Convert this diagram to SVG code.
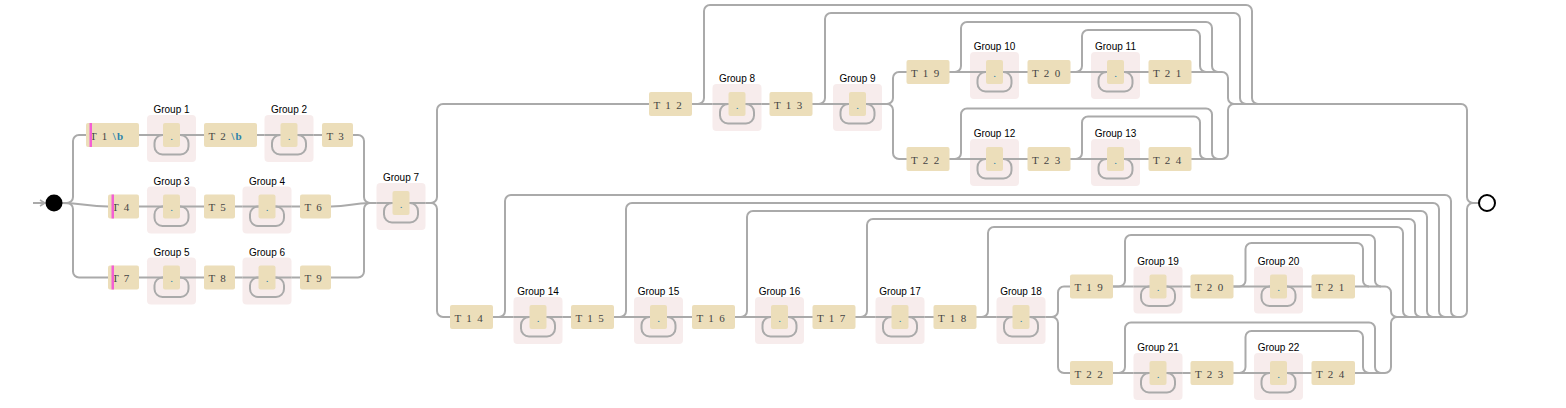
<svg xmlns="http://www.w3.org/2000/svg" width="1566" height="408" viewBox="0 0 1566 408">
<style>
.ln{fill:none;stroke:#aaa;stroke-width:2}
.lp{fill:none;stroke:#aaa;stroke-width:2}
.tb{fill:#ecdeba}
.gb{fill:#f7ecec}
.gl{font-family:"Liberation Sans",Arial,sans-serif;font-size:10px;fill:#000;text-anchor:middle}
.tt{font-family:"Liberation Serif","Times New Roman",serif;font-size:11px;letter-spacing:1.3px;fill:#444}
.bs{font-weight:bold;fill:#2b82aa}
.dt{font-family:"Liberation Serif","Times New Roman",serif;font-size:11px;fill:#2b82aa;text-anchor:middle}
.bar{fill:#f45fd4}
</style>
<defs>
<marker id="arr" markerWidth="8" markerHeight="8" refX="6" refY="4" orient="auto" markerUnits="userSpaceOnUse"><path d="M1,1 L6,4 L1,7" fill="none" stroke="#aaa" stroke-width="1.5"/></marker>
</defs>
<g id="connectors">
<path class="ln" d="M33 203 H45" marker-end="url(#arr)"/>
<path class="ln" d="M62 203 H67 A6 6 0 0 0 73 197 V141 A6 6 0 0 1 79 135 H358 A6 6 0 0 1 364 141 V197 A6 6 0 0 0 370 203"/>
<path class="ln" d="M62 203 C84 203 86 206.5 108 206.5 H331 C350 206.5 352 203 370 203"/>
<path class="ln" d="M62 203 H67 A6 6 0 0 1 73 209 V271.5 A6 6 0 0 0 79 277.5 H358 A6 6 0 0 0 364 271.5 V209 A6 6 0 0 1 370 203"/>
<path class="ln" d="M370 203 H431 A6 6 0 0 0 437 197 V110 A6 6 0 0 1 443 104 H887 A6 6 0 0 0 893 98 V78 A6 6 0 0 1 899 72 H1222 A6 6 0 0 1 1228 78 V98 A6 6 0 0 0 1234 104 H1461 A6 6 0 0 1 1467 110 V197 A6 6 0 0 0 1473 203 H1479"/>
<path class="ln" d="M887 104 A6 6 0 0 1 893 110 V153 A6 6 0 0 0 899 159 H1222 A6 6 0 0 0 1228 153 V110 A6 6 0 0 1 1234 104"/>
<path class="ln" d="M431 203 A6 6 0 0 1 437 209 V311 A6 6 0 0 0 443 317 H1052 A6 6 0 0 0 1058 311 V292.5 A6 6 0 0 1 1064 286.5 H1385 A6 6 0 0 1 1391 292.5 V311 A6 6 0 0 0 1397 317 H1461 A6 6 0 0 0 1467 311 V209 A6 6 0 0 1 1473 203"/>
<path class="ln" d="M1052 317 A6 6 0 0 1 1058 323 V367 A6 6 0 0 0 1064 373 H1385 A6 6 0 0 0 1391 367 V323 A6 6 0 0 1 1397 317"/>
<path class="ln" d="M692 104 H698 A6 6 0 0 0 704 98 V11 A6 6 0 0 1 710 5 H1246 A6 6 0 0 1 1252 11 V98 A6 6 0 0 0 1258 104"/>
<path class="ln" d="M812 104 H819 A6 6 0 0 0 825 98 V19 A6 6 0 0 1 831 13 H1234 A6 6 0 0 1 1240 19 V98 A6 6 0 0 0 1246 104"/>
<path class="ln" d="M949 72 H955 A6 6 0 0 0 961 66 V28 A6 6 0 0 1 967 22 H1206 A6 6 0 0 1 1212 28 V66 A6 6 0 0 0 1218 72"/>
<path class="ln" d="M1070 72 H1076 A6 6 0 0 0 1082 66 V36 A6 6 0 0 1 1088 30 H1194 A6 6 0 0 1 1200 36 V66 A6 6 0 0 0 1206 72"/>
<path class="ln" d="M949 159 H955 A6 6 0 0 0 961 153 V114.5 A6 6 0 0 1 967 108.5 H1206 A6 6 0 0 1 1212 114.5 V153 A6 6 0 0 0 1218 159"/>
<path class="ln" d="M1070 159 H1076 A6 6 0 0 0 1082 153 V122.5 A6 6 0 0 1 1088 116.5 H1194 A6 6 0 0 1 1200 122.5 V153 A6 6 0 0 0 1206 159"/>
<path class="ln" d="M493 317 H499 A6 6 0 0 0 505 311 V201 A6 6 0 0 1 511 195 H1445 A6 6 0 0 1 1451 201 V311 A6 6 0 0 0 1457 317"/>
<path class="ln" d="M614 317 H620 A6 6 0 0 0 626 311 V209 A6 6 0 0 1 632 203 H1433 A6 6 0 0 1 1439 209 V311 A6 6 0 0 0 1445 317"/>
<path class="ln" d="M735 317 H741 A6 6 0 0 0 747 311 V217 A6 6 0 0 1 753 211 H1421 A6 6 0 0 1 1427 217 V311 A6 6 0 0 0 1433 317"/>
<path class="ln" d="M855 317 H861 A6 6 0 0 0 867 311 V225 A6 6 0 0 1 873 219 H1409 A6 6 0 0 1 1415 225 V311 A6 6 0 0 0 1421 317"/>
<path class="ln" d="M976 317 H982 A6 6 0 0 0 988 311 V233 A6 6 0 0 1 994 227 H1397 A6 6 0 0 1 1403 233 V311 A6 6 0 0 0 1409 317"/>
<path class="ln" d="M1113 286.5 H1119 A6 6 0 0 0 1125 280.5 V241 A6 6 0 0 1 1131 235 H1369 A6 6 0 0 1 1375 241 V280.5 A6 6 0 0 0 1381 286.5"/>
<path class="ln" d="M1233 286.5 H1239.5 A6 6 0 0 0 1245.5 280.5 V249 A6 6 0 0 1 1251.5 243 H1357 A6 6 0 0 1 1363 249 V280.5 A6 6 0 0 0 1369 286.5"/>
<path class="ln" d="M1113 373 H1119 A6 6 0 0 0 1125 367 V328.5 A6 6 0 0 1 1131 322.5 H1369 A6 6 0 0 1 1375 328.5 V367 A6 6 0 0 0 1381 373"/>
<path class="ln" d="M1233 373 H1239.5 A6 6 0 0 0 1245.5 367 V337 A6 6 0 0 1 1251.5 331 H1357 A6 6 0 0 1 1363 337 V367 A6 6 0 0 0 1369 373"/>
</g>
<g id="start"><circle cx="54" cy="203" r="8.5" fill="#000"/></g>
<g id="end"><circle cx="1487" cy="203" r="8" fill="#fff" stroke="#000" stroke-width="2"/></g>

<g id="t1"><rect class="tb" x="86" y="123" width="53" height="24" rx="2"/><text class="tt" x="90" y="139.5">T 1 <tspan class="bs">\b</tspan></text><rect class="bar" x="89.5" y="123" width="2.5" height="24"/></g>
<g id="g1"><rect class="gb" x="147" y="115" width="49" height="47" rx="4"/><text class="gl" x="171.5" y="113">Group 1</text><path class="ln" d="M147 135 H196"/><rect class="lp" x="154.5" y="135" width="34" height="19.5" rx="8"/><rect class="tb" x="163" y="123" width="17" height="24" rx="2"/><text class="dt" x="171.5" y="139.5">.</text></g>
<g id="t2"><rect class="tb" x="204" y="123" width="53" height="24" rx="2"/><text class="tt" x="208.5" y="139.5">T 2 <tspan class="bs">\b</tspan></text></g>
<g id="g2"><rect class="gb" x="264.5" y="115" width="49" height="47" rx="4"/><text class="gl" x="289" y="113">Group 2</text><path class="ln" d="M264.5 135 H313.5"/><rect class="lp" x="272" y="135" width="34" height="19.5" rx="8"/><rect class="tb" x="280.5" y="123" width="17" height="24" rx="2"/><text class="dt" x="289" y="139.5">.</text></g>
<g id="t3"><rect class="tb" x="322" y="123" width="31" height="24" rx="2"/><text class="tt" x="326.5" y="139.5">T 3</text></g>

<g id="t4"><rect class="tb" x="108" y="194.5" width="31" height="24" rx="2"/><text class="tt" x="112" y="211">T 4</text><rect class="bar" x="111.5" y="194.5" width="2.5" height="24"/></g>
<g id="g3"><rect class="gb" x="147" y="186.5" width="49" height="47" rx="4"/><text class="gl" x="171.5" y="184.5">Group 3</text><path class="ln" d="M147 206.5 H196"/><rect class="lp" x="154.5" y="206.5" width="34" height="19.5" rx="8"/><rect class="tb" x="163" y="194.5" width="17" height="24" rx="2"/><text class="dt" x="171.5" y="211">.</text></g>
<g id="t5"><rect class="tb" x="204" y="194.5" width="31" height="24" rx="2"/><text class="tt" x="208.5" y="211">T 5</text></g>
<g id="g4"><rect class="gb" x="242.5" y="186.5" width="49" height="47" rx="4"/><text class="gl" x="267" y="184.5">Group 4</text><path class="ln" d="M242.5 206.5 H291.5"/><rect class="lp" x="250" y="206.5" width="34" height="19.5" rx="8"/><rect class="tb" x="258.5" y="194.5" width="17" height="24" rx="2"/><text class="dt" x="267" y="211">.</text></g>
<g id="t6"><rect class="tb" x="300" y="194.5" width="31" height="24" rx="2"/><text class="tt" x="304.5" y="211">T 6</text></g>

<g id="t7"><rect class="tb" x="108" y="265.5" width="31" height="24" rx="2"/><text class="tt" x="112" y="282">T 7</text><rect class="bar" x="111.5" y="265.5" width="2.5" height="24"/></g>
<g id="g5"><rect class="gb" x="147" y="257.5" width="49" height="47" rx="4"/><text class="gl" x="171.5" y="255.5">Group 5</text><path class="ln" d="M147 277.5 H196"/><rect class="lp" x="154.5" y="277.5" width="34" height="19.5" rx="8"/><rect class="tb" x="163" y="265.5" width="17" height="24" rx="2"/><text class="dt" x="171.5" y="282">.</text></g>
<g id="t8"><rect class="tb" x="204" y="265.5" width="31" height="24" rx="2"/><text class="tt" x="208.5" y="282">T 8</text></g>
<g id="g6"><rect class="gb" x="242.5" y="257.5" width="49" height="47" rx="4"/><text class="gl" x="267" y="255.5">Group 6</text><path class="ln" d="M242.5 277.5 H291.5"/><rect class="lp" x="250" y="277.5" width="34" height="19.5" rx="8"/><rect class="tb" x="258.5" y="265.5" width="17" height="24" rx="2"/><text class="dt" x="267" y="282">.</text></g>
<g id="t9"><rect class="tb" x="300" y="265.5" width="31" height="24" rx="2"/><text class="tt" x="304.5" y="282">T 9</text></g>

<g id="g7"><rect class="gb" x="376.5" y="183" width="49" height="47" rx="4"/><text class="gl" x="401" y="181">Group 7</text><path class="ln" d="M376.5 203 H425.5"/><rect class="lp" x="384" y="203" width="34" height="19.5" rx="8"/><rect class="tb" x="392.5" y="191" width="17" height="24" rx="2"/><text class="dt" x="401" y="207.5">.</text></g>

<g id="t12"><rect class="tb" x="649" y="92" width="43" height="24" rx="2"/><text class="tt" x="653.5" y="108.5">T 1 2</text></g>
<g id="g8"><rect class="gb" x="712.5" y="84" width="49" height="47" rx="4"/><text class="gl" x="737" y="82">Group 8</text><path class="ln" d="M712.5 104 H761.5"/><rect class="lp" x="720" y="104" width="34" height="19.5" rx="8"/><rect class="tb" x="728.5" y="92" width="17" height="24" rx="2"/><text class="dt" x="737" y="108.5">.</text></g>
<g id="t13"><rect class="tb" x="769.5" y="92" width="43" height="24" rx="2"/><text class="tt" x="774" y="108.5">T 1 3</text></g>
<g id="g9"><rect class="gb" x="833" y="84" width="49" height="47" rx="4"/><text class="gl" x="857.5" y="82">Group 9</text><path class="ln" d="M833 104 H882"/><rect class="lp" x="840.5" y="104" width="34" height="19.5" rx="8"/><rect class="tb" x="849" y="92" width="17" height="24" rx="2"/><text class="dt" x="857.5" y="108.5">.</text></g>

<g id="t19"><rect class="tb" x="906.5" y="60" width="43" height="24" rx="2"/><text class="tt" x="911" y="76.5">T 1 9</text></g>
<g id="g10"><rect class="gb" x="970" y="52" width="49" height="47" rx="4"/><text class="gl" x="994.5" y="50">Group 10</text><path class="ln" d="M970 72 H1019"/><rect class="lp" x="977.5" y="72" width="34" height="19.5" rx="8"/><rect class="tb" x="986" y="60" width="17" height="24" rx="2"/><text class="dt" x="994.5" y="76.5">.</text></g>
<g id="t20"><rect class="tb" x="1027.5" y="60" width="43" height="24" rx="2"/><text class="tt" x="1032" y="76.5">T 2 0</text></g>
<g id="g11"><rect class="gb" x="1091" y="52" width="49" height="47" rx="4"/><text class="gl" x="1115.5" y="50">Group 11</text><path class="ln" d="M1091 72 H1140"/><rect class="lp" x="1098.5" y="72" width="34" height="19.5" rx="8"/><rect class="tb" x="1107" y="60" width="17" height="24" rx="2"/><text class="dt" x="1115.5" y="76.5">.</text></g>
<g id="t21"><rect class="tb" x="1148.5" y="60" width="43" height="24" rx="2"/><text class="tt" x="1153" y="76.5">T 2 1</text></g>

<g id="t22"><rect class="tb" x="906.5" y="147" width="43" height="24" rx="2"/><text class="tt" x="911" y="163.5">T 2 2</text></g>
<g id="g12"><rect class="gb" x="970" y="139" width="49" height="47" rx="4"/><text class="gl" x="994.5" y="137">Group 12</text><path class="ln" d="M970 159 H1019"/><rect class="lp" x="977.5" y="159" width="34" height="19.5" rx="8"/><rect class="tb" x="986" y="147" width="17" height="24" rx="2"/><text class="dt" x="994.5" y="163.5">.</text></g>
<g id="t23"><rect class="tb" x="1027.5" y="147" width="43" height="24" rx="2"/><text class="tt" x="1032" y="163.5">T 2 3</text></g>
<g id="g13"><rect class="gb" x="1091" y="139" width="49" height="47" rx="4"/><text class="gl" x="1115.5" y="137">Group 13</text><path class="ln" d="M1091 159 H1140"/><rect class="lp" x="1098.5" y="159" width="34" height="19.5" rx="8"/><rect class="tb" x="1107" y="147" width="17" height="24" rx="2"/><text class="dt" x="1115.5" y="163.5">.</text></g>
<g id="t24"><rect class="tb" x="1148.5" y="147" width="43" height="24" rx="2"/><text class="tt" x="1153" y="163.5">T 2 4</text></g>

<g id="t14"><rect class="tb" x="450" y="305" width="43" height="24" rx="2"/><text class="tt" x="454.5" y="321.5">T 1 4</text></g>
<g id="g14"><rect class="gb" x="513.5" y="297" width="49" height="47" rx="4"/><text class="gl" x="538" y="295">Group 14</text><path class="ln" d="M513.5 317 H562.5"/><rect class="lp" x="521" y="317" width="34" height="19.5" rx="8"/><rect class="tb" x="529.5" y="305" width="17" height="24" rx="2"/><text class="dt" x="538" y="321.5">.</text></g>
<g id="t15"><rect class="tb" x="571" y="305" width="43" height="24" rx="2"/><text class="tt" x="575.5" y="321.5">T 1 5</text></g>
<g id="g15"><rect class="gb" x="634" y="297" width="49" height="47" rx="4"/><text class="gl" x="658.5" y="295">Group 15</text><path class="ln" d="M634 317 H683"/><rect class="lp" x="641.5" y="317" width="34" height="19.5" rx="8"/><rect class="tb" x="650" y="305" width="17" height="24" rx="2"/><text class="dt" x="658.5" y="321.5">.</text></g>
<g id="t16"><rect class="tb" x="692" y="305" width="43" height="24" rx="2"/><text class="tt" x="696.5" y="321.5">T 1 6</text></g>
<g id="g16"><rect class="gb" x="755" y="297" width="49" height="47" rx="4"/><text class="gl" x="779.5" y="295">Group 16</text><path class="ln" d="M755 317 H804"/><rect class="lp" x="762.5" y="317" width="34" height="19.5" rx="8"/><rect class="tb" x="771" y="305" width="17" height="24" rx="2"/><text class="dt" x="779.5" y="321.5">.</text></g>
<g id="t17"><rect class="tb" x="812.5" y="305" width="43" height="24" rx="2"/><text class="tt" x="817" y="321.5">T 1 7</text></g>
<g id="g17"><rect class="gb" x="875.5" y="297" width="49" height="47" rx="4"/><text class="gl" x="900" y="295">Group 17</text><path class="ln" d="M875.5 317 H924.5"/><rect class="lp" x="883" y="317" width="34" height="19.5" rx="8"/><rect class="tb" x="891.5" y="305" width="17" height="24" rx="2"/><text class="dt" x="900" y="321.5">.</text></g>
<g id="t18"><rect class="tb" x="933.5" y="305" width="43" height="24" rx="2"/><text class="tt" x="938" y="321.5">T 1 8</text></g>
<g id="g18"><rect class="gb" x="996.5" y="297" width="49" height="47" rx="4"/><text class="gl" x="1021" y="295">Group 18</text><path class="ln" d="M996.5 317 H1045.5"/><rect class="lp" x="1004" y="317" width="34" height="19.5" rx="8"/><rect class="tb" x="1012.5" y="305" width="17" height="24" rx="2"/><text class="dt" x="1021" y="321.5">.</text></g>

<g id="t19b"><rect class="tb" x="1070" y="274.5" width="43" height="24" rx="2"/><text class="tt" x="1074.5" y="291">T 1 9</text></g>
<g id="g19"><rect class="gb" x="1133.5" y="266.5" width="49" height="47" rx="4"/><text class="gl" x="1158" y="264.5">Group 19</text><path class="ln" d="M1133.5 286.5 H1182.5"/><rect class="lp" x="1141" y="286.5" width="34" height="19.5" rx="8"/><rect class="tb" x="1149.5" y="274.5" width="17" height="24" rx="2"/><text class="dt" x="1158" y="291">.</text></g>
<g id="t20b"><rect class="tb" x="1190.5" y="274.5" width="43" height="24" rx="2"/><text class="tt" x="1195" y="291">T 2 0</text></g>
<g id="g20"><rect class="gb" x="1254" y="266.5" width="49" height="47" rx="4"/><text class="gl" x="1278.5" y="264.5">Group 20</text><path class="ln" d="M1254 286.5 H1303"/><rect class="lp" x="1261.5" y="286.5" width="34" height="19.5" rx="8"/><rect class="tb" x="1270" y="274.5" width="17" height="24" rx="2"/><text class="dt" x="1278.5" y="291">.</text></g>
<g id="t21b"><rect class="tb" x="1311.5" y="274.5" width="43.5" height="24" rx="2"/><text class="tt" x="1316" y="291">T 2 1</text></g>

<g id="t22b"><rect class="tb" x="1070" y="361" width="43" height="24" rx="2"/><text class="tt" x="1074.5" y="377.5">T 2 2</text></g>
<g id="g21"><rect class="gb" x="1133.5" y="353" width="49" height="47" rx="4"/><text class="gl" x="1158" y="351">Group 21</text><path class="ln" d="M1133.5 373 H1182.5"/><rect class="lp" x="1141" y="373" width="34" height="19.5" rx="8"/><rect class="tb" x="1149.5" y="361" width="17" height="24" rx="2"/><text class="dt" x="1158" y="377.5">.</text></g>
<g id="t23b"><rect class="tb" x="1190.5" y="361" width="43" height="24" rx="2"/><text class="tt" x="1195" y="377.5">T 2 3</text></g>
<g id="g22"><rect class="gb" x="1254" y="353" width="49" height="47" rx="4"/><text class="gl" x="1278.5" y="351">Group 22</text><path class="ln" d="M1254 373 H1303"/><rect class="lp" x="1261.5" y="373" width="34" height="19.5" rx="8"/><rect class="tb" x="1270" y="361" width="17" height="24" rx="2"/><text class="dt" x="1278.5" y="377.5">.</text></g>
<g id="t24b"><rect class="tb" x="1311.5" y="361" width="43.5" height="24" rx="2"/><text class="tt" x="1316" y="377.5">T 2 4</text></g>
</svg>
